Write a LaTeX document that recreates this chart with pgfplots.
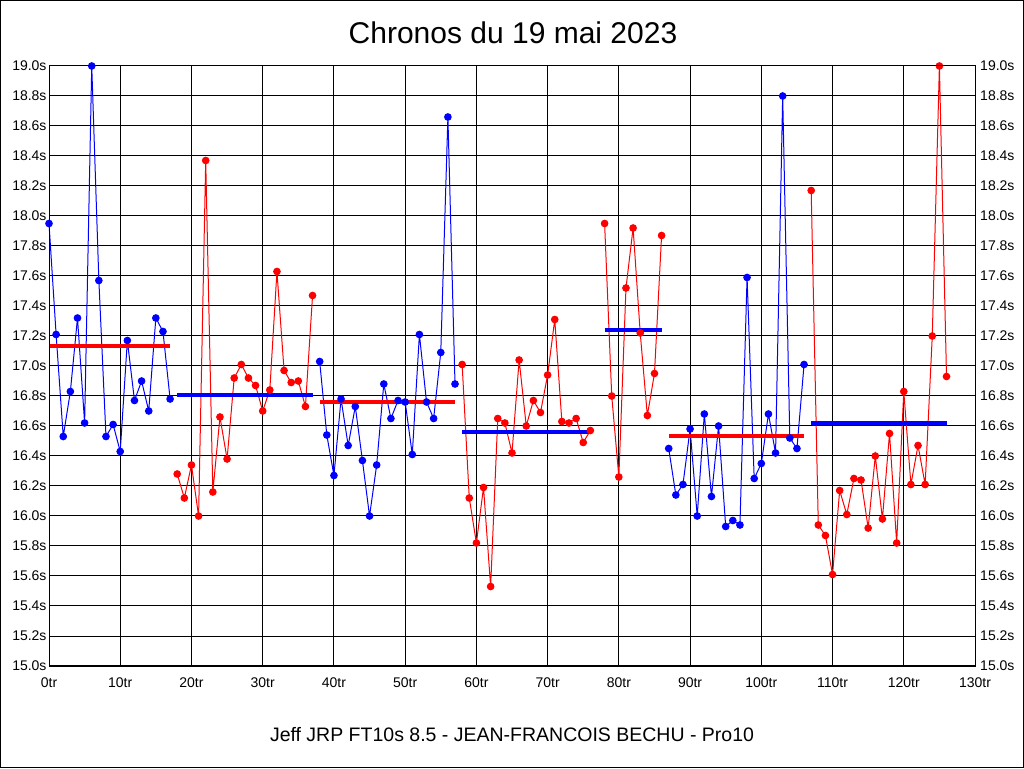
\documentclass[border=0pt]{standalone}
\usepackage{pgfplots}
\pgfplotsset{compat=1.18}
\usepackage{fontspec}
\setmainfont{Liberation Sans}
\definecolor{pblue}{RGB}{0,0,255}
\definecolor{pred}{RGB}{255,0,0}
\pgfplotsset{
  myaxis/.style={
    at={(49pt,102pt)}, anchor=south west,
    width=926pt, height=600pt, scale only axis,
    xmin=0, xmax=130, ymin=15, ymax=19,
    xtick={0,10,20,30,40,50,60,70,80,90,100,110,120,130},
    ytick={15.0,15.2,15.4,15.6,15.8,16.0,16.2,16.4,16.6,16.8,17.0,17.2,17.4,17.6,17.8,18.0,18.2,18.4,18.6,18.8,19.0},
    major tick length=0pt,
    tick label style={font=\fontsize{14}{16}\selectfont, inner sep=0pt},
    /pgf/number format/assume math mode=true,
    axis line style={line width=1pt, black},
    clip=false,
  },
  bl/.style={pblue, line width=1pt, mark=*, mark size=3.3pt, mark options={solid, fill=pblue, draw=pblue}},
  rd/.style={pred, line width=1pt, mark=*, mark size=3.3pt, mark options={solid, fill=pred, draw=pred}},
  bmean/.style={pblue, line width=4pt, no marks},
  rmean/.style={pred, line width=4pt, no marks},
}
\begin{document}
\begin{tikzpicture}[x=1pt,y=1pt]
\useasboundingbox (0,0) rectangle (1024,768);
\draw[line width=1pt, black] (0.5,0.5) rectangle (1023.5,767.5);
\node[anchor=base, font=\fontsize{30}{34}\selectfont] at (513,724.7) {Chronos du 19 mai 2023};
\node[anchor=base, font=\fontsize{19.5}{22}\selectfont] at (512,26.3) {Jeff JRP FT10s 8.5 - JEAN-FRANCOIS BECHU - Pro10};

\begin{axis}[myaxis,
  grid=major, grid style={black, line width=1pt},
  yticklabel pos=left,
  xticklabel={\pgfmathprintnumber{\tick}tr},
  xticklabel style={yshift=-12pt},
  yticklabel={\pgfmathprintnumber[fixed,fixed zerofill,precision=1]{\tick}s},
  yticklabel style={xshift=-2.3pt},
]
% segment 1 (blue)
\addplot[bl] coordinates {
(0,17.95) (1,17.21) (2,16.53) (3,16.83) (4,17.32) (5,16.62) (6,19.00) (7,17.57) (8,16.53)
(9,16.61) (10,16.43) (11,17.17) (12,16.77) (13,16.90) (14,16.70) (15,17.32) (16,17.23) (17,16.78)};
% segment 2 (red)
\addplot[rd] coordinates {
(18,16.28) (19,16.12) (20,16.34) (21,16.00) (22,18.37) (23,16.16) (24,16.66) (25,16.38)
(26,16.92) (27,17.01) (28,16.92) (29,16.87) (30,16.70) (31,16.84) (32,17.63) (33,16.97)
(34,16.89) (35,16.90) (36,16.73) (37,17.47)};
% segment 3 (blue)
\addplot[bl] coordinates {
(38,17.03) (39,16.54) (40,16.27) (41,16.78) (42,16.47) (43,16.73) (44,16.37) (45,16.00)
(46,16.34) (47,16.88) (48,16.65) (49,16.77) (50,16.76) (51,16.41) (52,17.21) (53,16.76)
(54,16.65) (55,17.09) (56,18.66) (57,16.88)};
% segment 4 (red)
\addplot[rd] coordinates {
(58,17.01) (59,16.12) (60,15.82) (61,16.19) (62,15.53) (63,16.65) (64,16.62) (65,16.42)
(66,17.04) (67,16.60) (68,16.77) (69,16.69) (70,16.94) (71,17.31) (72,16.63) (73,16.62)
(74,16.65) (75,16.49) (76,16.57)};
% segment 5 (red)
\addplot[rd] coordinates {
(78,17.95) (79,16.80) (80,16.26) (81,17.52) (82,17.92) (83,17.22) (84,16.67) (85,16.95) (86,17.87)};
% segment 6 (blue)
\addplot[bl] coordinates {
(87,16.45) (88,16.14) (89,16.21) (90,16.58) (91,16.00) (92,16.68) (93,16.13) (94,16.60)
(95,15.93) (96,15.97) (97,15.94) (98,17.59) (99,16.25) (100,16.35) (101,16.68) (102,16.42)
(103,18.80) (104,16.52) (105,16.45) (106,17.01)};
% segment 7 (red)
\addplot[rd] coordinates {
(107,18.17) (108,15.94) (109,15.87) (110,15.61) (111,16.17) (112,16.01) (113,16.25) (114,16.24)
(115,15.92) (116,16.40) (117,15.98) (118,16.55) (119,15.82) (120,16.83) (121,16.21) (122,16.47)
(123,16.21) (124,17.20) (125,19.00) (126,16.93)};
% mean lines
\addplot[rmean] coordinates {(0,17.13) (17,17.13)};
\addplot[bmean] coordinates {(18,16.805) (37,16.805)};
\addplot[rmean] coordinates {(38,16.76) (57,16.76)};
\addplot[bmean] coordinates {(58,16.558) (76,16.558)};
\addplot[bmean] coordinates {(78,17.238) (86,17.238)};
\addplot[rmean] coordinates {(87,16.53) (106,16.53)};
\addplot[bmean] coordinates {(107,16.618) (126,16.618)};
\end{axis}

\begin{axis}[myaxis,
  xtick=\empty,
  yticklabel pos=right,
  yticklabel={\pgfmathprintnumber[fixed,fixed zerofill,precision=1]{\tick}s},
  yticklabel style={xshift=5pt},
]
\end{axis}
\end{tikzpicture}
\end{document}
